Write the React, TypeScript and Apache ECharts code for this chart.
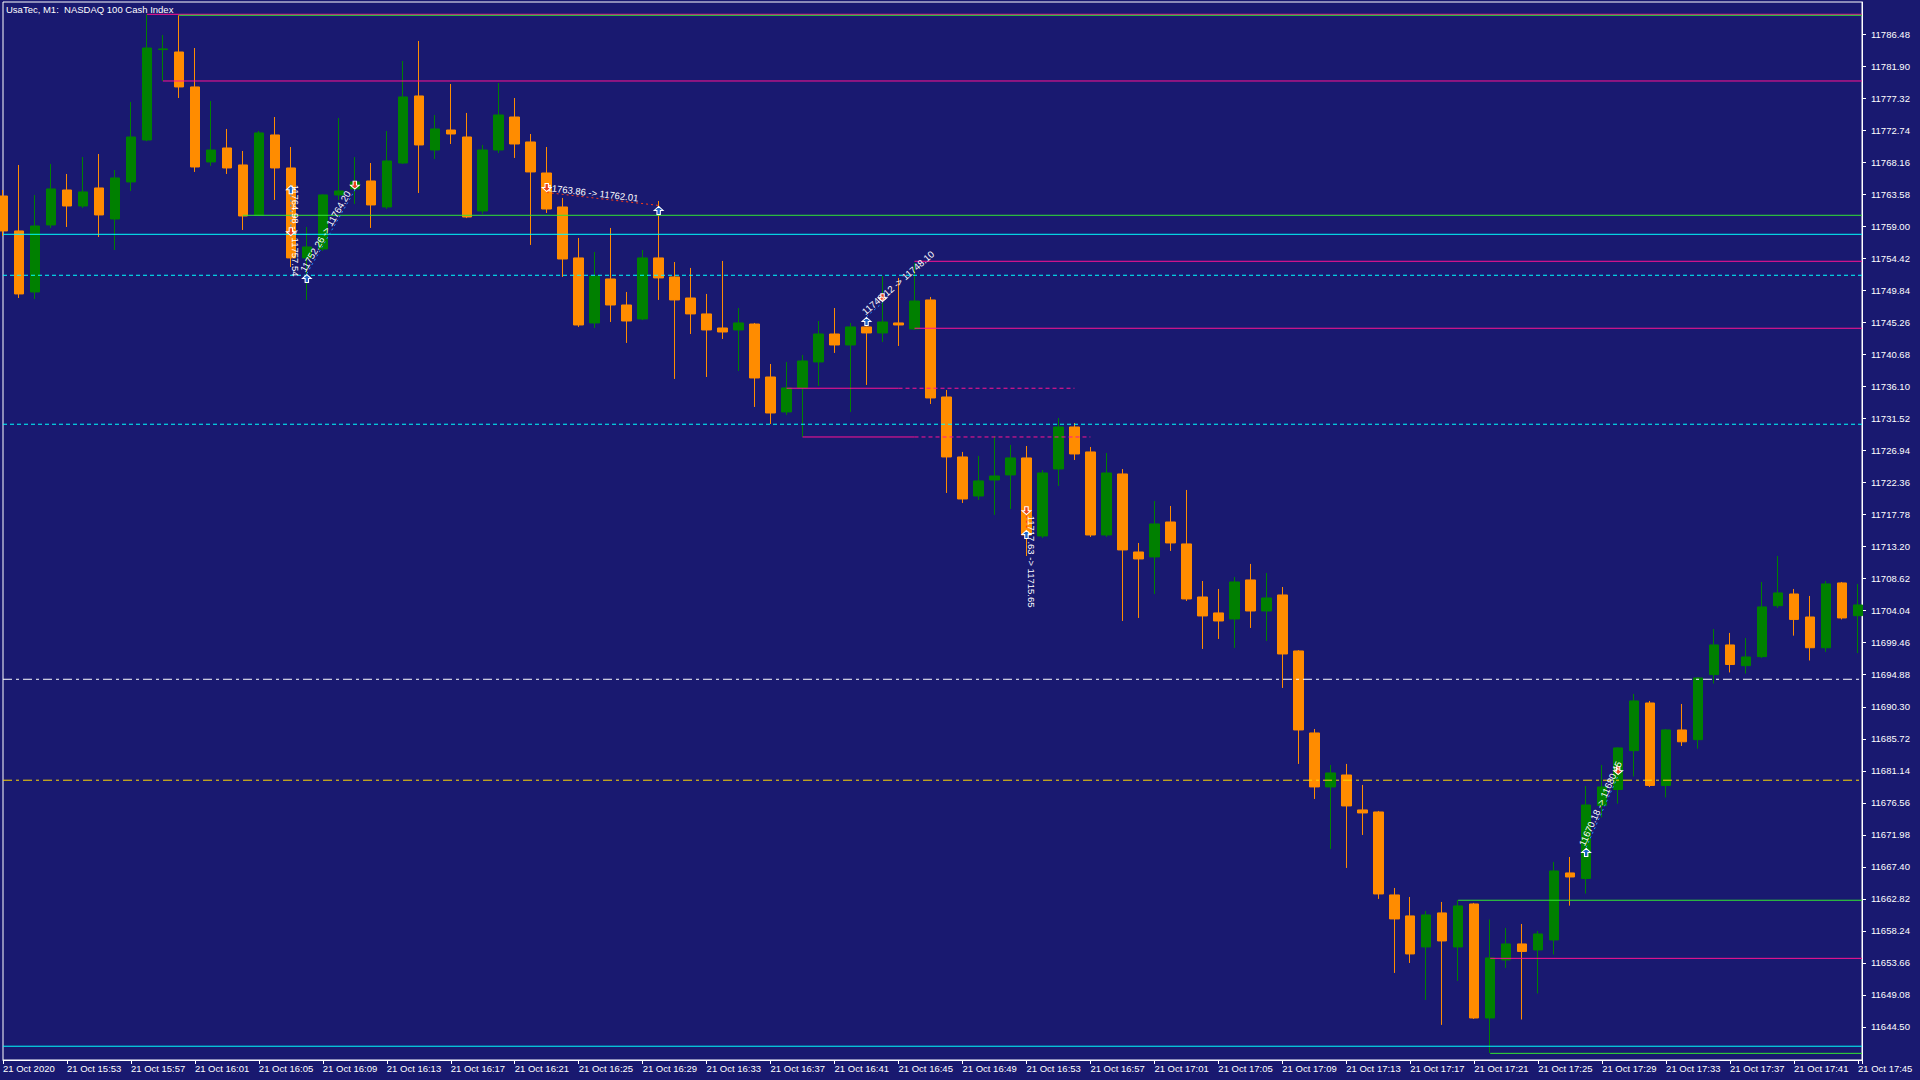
import React, { useEffect, useRef } from 'react';
import * as echarts from 'echarts';

// ---------- data ----------
const opens = [
  11763.36, 11758.36, 11749.63, 11759.22, 11764.22, 11761.93, 11764.51, 11760.07, 11765.37, 11771.37,
  11784.30, 11783.96, 11778.96, 11768.23, 11770.23, 11767.80, 11760.65, 11772.09, 11767.37, 11754.50,
  11755.78, 11763.51, 11764.37, 11765.51, 11761.79, 11768.08, 11777.67, 11769.94, 11772.80, 11771.80,
  11761.22, 11769.94, 11774.66, 11771.09, 11766.65, 11761.79, 11754.50, 11745.20, 11751.49, 11747.77,
  11745.77, 11754.50, 11751.78, 11748.77, 11746.49, 11744.48, 11744.20, 11745.05, 11737.47, 11732.47,
  11735.90, 11739.62, 11743.62, 11742.05, 11744.63, 11743.77, 11745.20, 11744.34, 11748.49, 11734.61,
  11726.03, 11720.45, 11722.74, 11723.46, 11725.89, 11714.73, 11724.31, 11730.32, 11726.75, 11714.87,
  11723.60, 11712.44, 11711.73, 11716.73, 11713.59, 11706.00, 11703.72, 11702.86, 11708.44, 11704.00,
  11706.29, 11698.28, 11686.55, 11678.83, 11680.54, 11675.54, 11675.25, 11663.38, 11660.38, 11655.94,
  11660.81, 11655.94, 11662.09, 11645.78, 11654.08, 11656.37, 11655.51, 11656.94, 11666.53, 11665.74,
  11676.18, 11678.46, 11684.02, 11690.84, 11679.04, 11686.98, 11685.59, 11694.90, 11699.14, 11696.18,
  11697.47, 11704.76, 11706.43, 11703.14, 11698.74, 11708.01, 11703.33
];
const closes = [
  11758.36, 11749.35, 11759.07, 11764.37, 11761.93, 11763.94, 11760.65, 11765.94, 11771.80, 11784.53,
  11784.40, 11778.96, 11767.51, 11769.94, 11767.37, 11760.50, 11772.38, 11767.37, 11754.50, 11756.07,
  11763.51, 11764.08, 11765.37, 11762.08, 11768.37, 11777.53, 11770.66, 11772.95, 11772.23, 11760.36,
  11769.94, 11774.95, 11770.80, 11766.80, 11761.50, 11754.35, 11744.91, 11751.92, 11747.77, 11745.48,
  11754.50, 11751.64, 11748.49, 11746.49, 11744.20, 11743.91, 11745.20, 11737.33, 11732.32, 11735.90,
  11739.76, 11743.62, 11742.05, 11744.63, 11743.77, 11745.34, 11744.91, 11748.34, 11734.47, 11726.03,
  11720.02, 11722.60, 11723.31, 11725.89, 11714.87, 11723.74, 11730.32, 11726.46, 11714.87, 11723.74,
  11712.73, 11711.44, 11716.45, 11713.73, 11705.72, 11703.29, 11702.57, 11708.15, 11704.00, 11705.86,
  11697.85, 11686.98, 11678.83, 11680.83, 11676.11, 11675.11, 11663.52, 11659.95, 11654.94, 11660.52,
  11656.80, 11661.81, 11645.78, 11654.37, 11656.37, 11655.30, 11657.80, 11666.81, 11665.95, 11676.25,
  11678.83, 11684.41, 11691.13, 11679.04, 11686.98, 11685.29, 11694.42, 11699.14, 11696.34, 11697.42,
  11704.58, 11706.58, 11702.79, 11698.74, 11707.87, 11703.00, 11704.86
];
const lows = [
  11757.64, 11748.77, 11748.63, 11758.79, 11758.93, 11761.65, 11757.50, 11755.64, 11764.08, 11771.20,
  11779.81, 11777.38, 11766.80, 11767.66, 11766.51, 11758.50, 11760.50, 11762.79, 11753.21, 11748.49,
  11755.50, 11762.79, 11762.22, 11758.79, 11761.50, 11767.95, 11763.79, 11768.66, 11770.80, 11760.20,
  11760.79, 11769.51, 11768.80, 11756.36, 11760.93, 11751.78, 11744.63, 11744.48, 11745.34, 11742.34,
  11745.60, 11748.49, 11737.19, 11743.62, 11737.47, 11742.91, 11738.33, 11733.18, 11730.75, 11732.04,
  11728.89, 11736.19, 11740.91, 11732.47, 11736.33, 11742.48, 11741.91, 11744.20, 11733.61, 11720.88,
  11719.45, 11719.88, 11717.74, 11718.59, 11711.87, 11714.44, 11721.88, 11725.60, 11714.59, 11714.59,
  11702.57, 11703.00, 11706.43, 11712.59, 11705.43, 11698.57, 11700.00, 11698.71, 11701.57, 11699.71,
  11692.99, 11682.12, 11677.11, 11669.96, 11667.24, 11671.96, 11662.81, 11652.22, 11653.65, 11648.36,
  11644.79, 11651.08, 11645.64, 11640.78, 11652.94, 11645.56, 11649.29, 11654.86, 11661.85, 11663.58,
  11674.47, 11676.44, 11680.33, 11678.83, 11677.33, 11684.69, 11684.31, 11693.62, 11695.21, 11695.05,
  11697.28, 11704.43, 11700.47, 11696.92, 11698.14, 11702.79, 11697.97
];
const highs = [
  11764.22, 11767.80, 11763.51, 11767.94, 11766.51, 11768.94, 11769.37, 11767.08, 11776.81, 11789.35,
  11786.39, 11789.21, 11784.53, 11776.95, 11772.95, 11769.80, 11772.66, 11774.66, 11770.37, 11758.93,
  11763.60, 11774.52, 11768.94, 11768.08, 11772.66, 11782.67, 11785.54, 11774.95, 11779.38, 11775.24,
  11770.66, 11779.53, 11777.38, 11772.23, 11770.37, 11763.08, 11757.36, 11755.35, 11758.79, 11749.63,
  11755.64, 11762.65, 11753.92, 11753.07, 11749.35, 11754.07, 11747.34, 11745.20, 11739.33, 11739.62,
  11740.62, 11745.48, 11747.34, 11745.20, 11744.70, 11751.92, 11751.64, 11753.78, 11748.92, 11735.61,
  11726.75, 11726.18, 11729.03, 11727.75, 11727.60, 11724.17, 11731.61, 11730.89, 11727.46, 11726.60,
  11724.31, 11713.73, 11719.74, 11719.02, 11721.31, 11708.29, 11707.15, 11708.87, 11710.73, 11709.44,
  11707.43, 11698.40, 11687.12, 11681.97, 11682.12, 11679.12, 11675.40, 11664.38, 11663.09, 11661.09,
  11662.38, 11662.67, 11662.24, 11659.87, 11658.66, 11659.23, 11658.23, 11668.10, 11668.81, 11678.97,
  11681.97, 11684.50, 11692.13, 11691.13, 11687.12, 11690.70, 11694.55, 11701.43, 11700.86, 11700.14,
  11708.15, 11711.87, 11707.15, 11706.15, 11708.29, 11708.15, 11707.87
];

// x-axis labels, one every 4 bars
const timeLabels = [
  '21 Oct 2020', '21 Oct 15:53', '21 Oct 15:57', '21 Oct 16:01', '21 Oct 16:05', '21 Oct 16:09',
  '21 Oct 16:13', '21 Oct 16:17', '21 Oct 16:21', '21 Oct 16:25', '21 Oct 16:29', '21 Oct 16:33',
  '21 Oct 16:37', '21 Oct 16:41', '21 Oct 16:45', '21 Oct 16:49', '21 Oct 16:53', '21 Oct 16:57',
  '21 Oct 17:01', '21 Oct 17:05', '21 Oct 17:09', '21 Oct 17:13', '21 Oct 17:17', '21 Oct 17:21',
  '21 Oct 17:25', '21 Oct 17:29', '21 Oct 17:33', '21 Oct 17:37', '21 Oct 17:41', '21 Oct 17:45'
];
const priceTicks = [
  11644.50, 11649.08, 11653.66, 11658.24, 11662.82, 11667.40, 11671.98, 11676.56, 11681.14, 11685.72,
  11690.30, 11694.88, 11699.46, 11704.04, 11708.62, 11713.20, 11717.78, 11722.36, 11726.94, 11731.52,
  11736.10, 11740.68, 11745.26, 11749.84, 11754.42, 11759.00, 11763.58, 11768.16, 11772.74, 11777.32,
  11781.90, 11786.48
];

// horizontal levels (price, from bar, to bar; -1 = chart edge)
const levelPrices = [
  11789.35, 11789.21, 11779.81, 11760.60, 11757.88, 11754.02, 11752.02, 11744.44, 11735.86, 11735.86,
  11730.71, 11728.89, 11728.89, 11694.23, 11679.79, 11662.62, 11654.31, 11641.74, 11640.72
];
const levelFrom = [9, 11, 10, 15, -1, 57, -1, 57, 49, 56, -1, 50, 57, -1, -1, 91, 93, -1, 93];
const levelTo = [-1, -1, -1, -1, -1, -1, -1, -1, 56, 67, -1, 57, 68, -1, -1, -1, -1, -1, -1];
const levelKind = [
  'pink', 'lime', 'pink', 'lime', 'aqua', 'pink', 'aquaDash', 'pink', 'pink', 'pinkDash',
  'aquaDash', 'pink', 'pinkDash', 'whiteDashDot', 'goldDashDot', 'lime', 'pink', 'aqua', 'lime'
];

// trade history
const tradeSide = ['buy', 'buy', 'sell', 'buy', 'sell', 'buy'];
const tradeEntryBar = [18, 19, 34, 54, 64, 99];
const tradeEntryPrice = [11764.98, 11752.26, 11763.86, 11746.12, 11717.63, 11670.18];
const tradeExitBar = [18, 22, 41, 55, 64, 101];
const tradeExitPrice = [11757.54, 11764.20, 11762.01, 11748.10, 11715.65, 11680.45];

// ---------- styles ----------
const BG = '#191970';
const FONT = "'Liberation Sans', Arial, sans-serif";
const X_MIN = 0;
const X_MAX = 116.25;
const Y_MIN = 11639.77;
const Y_MAX = 11791.11;

const levelStyles: Record<string, { color: string; type: any }> = {
  pink: { color: '#FF1493', type: 'solid' },
  pinkDash: { color: '#FF1493', type: [4, 3] },
  lime: { color: '#32E632', type: 'solid' },
  aqua: { color: '#00FFFF', type: 'solid' },
  aquaDash: { color: '#00FFFF', type: [4, 3] },
  whiteDashDot: { color: '#FFFFFF', type: [9, 4, 3, 4] },
  goldDashDot: { color: '#FFD700', type: [9, 4, 3, 4] },
};

const UP_ARROW = 'path://M4.5,0 L9,4 L6.2,4 L6.2,8 L2.8,8 L2.8,4 L0,4 Z';
const DOWN_ARROW = 'path://M2.8,0 L6.2,0 L6.2,4 L9,4 L4.5,8 L0,4 L2.8,4 Z';

export default function App() {
  const ref = useRef<HTMLDivElement>(null);

  useEffect(() => {
    document.body.style.margin = '0';
    document.body.style.background = BG;
    const el = ref.current!;
    const chart = echarts.init(el, null, { renderer: 'svg' });

    const candles = opens.map((o, i) => [i, o, closes[i], lows[i], highs[i]]);

    const levelSeries = levelPrices.map((p, k) => {
      const st = levelStyles[levelKind[k]];
      const from = levelFrom[k] < 0 ? X_MIN : levelFrom[k];
      const to = levelTo[k] < 0 ? X_MAX : levelTo[k];
      return {
        type: 'line',
        data: [[from, p], [to, p]],
        symbol: 'none',
        silent: true,
        z: 3,
        lineStyle: { color: st.color, width: 1, type: st.type },
      };
    });

    const tradeLineSeries = tradeSide.map((side, k) => ({
      type: 'line',
      data: [[tradeEntryBar[k], tradeEntryPrice[k]], [tradeExitBar[k], tradeExitPrice[k]]],
      symbol: 'none',
      silent: true,
      z: 4,
      lineStyle: { color: side === 'buy' ? '#1E90FF' : '#FF3C14', width: 1, type: [2, 3] },
    }));

    const blueArrows: number[][] = [];
    const redArrows: number[][] = [];
    tradeSide.forEach((side, k) => {
      const entry = [tradeEntryBar[k], tradeEntryPrice[k]];
      const exit = [tradeExitBar[k], tradeExitPrice[k]];
      if (side === 'buy') { blueArrows.push(entry); redArrows.push(exit); }
      else { redArrows.push(entry); blueArrows.push(exit); }
    });

    const option: any = {
      animation: false,
      backgroundColor: BG,
      title: {
        text: 'UsaTec, M1:  NASDAQ 100 Cash Index',
        left: 6,
        top: 4,
        padding: 0,
        textStyle: { color: '#FFFFFF', fontSize: 9.5, fontWeight: 'normal', fontFamily: FONT },
      },
      grid: {
        left: 2, top: 2, right: 58, bottom: 20,
        show: true, borderColor: '#FFFFFF', borderWidth: 1, backgroundColor: 'transparent',
      },
      xAxis: {
        type: 'value',
        min: X_MIN,
        max: X_MAX,
        interval: 4,
        position: 'bottom',
        axisLine: { show: true, onZero: false, lineStyle: { color: '#FFFFFF', width: 1 } },
        axisTick: { show: true, length: 4, lineStyle: { color: '#FFFFFF' } },
        splitLine: { show: false },
        axisLabel: {
          color: '#FFFFFF',
          fontFamily: FONT,
          fontSize: 9.5,
          align: 'left',
          margin: 3,
          showMinLabel: true,
          showMaxLabel: true,
          formatter: (v: number) => {
            const r = Math.round(v);
            if (Math.abs(v - r) > 1e-6 || r % 4 !== 0) return '';
            return timeLabels[r / 4] ?? '';
          },
        },
      },
      yAxis: {
        type: 'value',
        position: 'right',
        min: Y_MIN,
        max: Y_MAX,
        axisLine: { show: true, onZero: false, lineStyle: { color: '#FFFFFF', width: 1 } },
        axisTick: { show: true, length: 4, lineStyle: { color: '#FFFFFF' }, customValues: priceTicks },
        splitLine: { show: false },
        axisLabel: {
          color: '#FFFFFF',
          fontFamily: FONT,
          fontSize: 9.5,
          margin: 9,
          customValues: priceTicks,
          formatter: (v: number) => v.toFixed(2),
        },
      },
      series: [
        {
          type: 'candlestick',
          data: candles,
          barWidth: 10,
          z: 2,
          silent: true,
          itemStyle: {
            color: '#008000',
            color0: '#FF8C00',
            borderColor: '#008000',
            borderColor0: '#FF8C00',
            borderWidth: 1,
          },
        },
        ...levelSeries,
        ...tradeLineSeries,
        {
          type: 'scatter',
          data: blueArrows,
          symbol: UP_ARROW,
          symbolSize: [9, 8],
          symbolOffset: [0, 5],
          silent: true,
          z: 5,
          itemStyle: { color: '#1E64C8', borderColor: '#FFFFFF', borderWidth: 1, opacity: 1 },
        },
        {
          type: 'scatter',
          data: redArrows,
          symbol: DOWN_ARROW,
          symbolSize: [9, 8],
          symbolOffset: [0, -5],
          silent: true,
          z: 5,
          itemStyle: { color: '#E8401C', borderColor: '#FFFFFF', borderWidth: 1, opacity: 1 },
        },
      ],
    };

    chart.setOption(option);

    const texts = tradeSide.map((_, k) => {
      const p0 = chart.convertToPixel({ gridIndex: 0 }, [tradeEntryBar[k], tradeEntryPrice[k]]) as number[];
      const p1 = chart.convertToPixel({ gridIndex: 0 }, [tradeExitBar[k], tradeExitPrice[k]]) as number[];
      const ang = Math.atan2(-(p1[1] - p0[1]), p1[0] - p0[0]);
      return {
        type: 'text',
        x: p0[0],
        y: p0[1],
        rotation: ang,
        z: 100,
        silent: true,
        style: {
          text: `${tradeEntryPrice[k].toFixed(2)} -> ${tradeExitPrice[k].toFixed(2)}`,
          fill: '#FFFFFF',
          font: `9.5px ${FONT}`,
          textAlign: 'left',
          textVerticalAlign: 'bottom',
          align: 'left',
          verticalAlign: 'bottom',
        },
      };
    });
    chart.setOption({ graphic: texts });

    return () => chart.dispose();
  }, []);

  return (
    <div
      ref={ref}
      style={{ position: 'fixed', left: 0, top: 0, width: 1920, height: 1080, background: BG }}
    />
  );
}
